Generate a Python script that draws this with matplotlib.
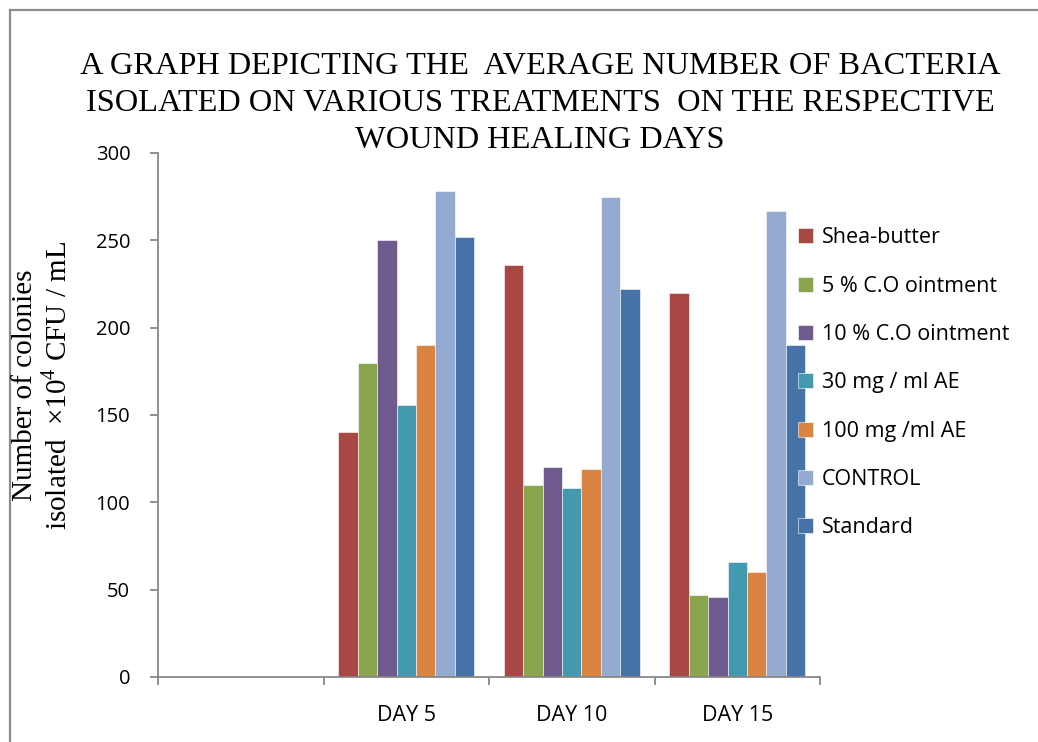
import numpy as np
import matplotlib
matplotlib.use("Agg")
import matplotlib.pyplot as plt
from matplotlib.lines import Line2D

# data
categories = ["", "DAY 5", "DAY 10", "DAY 15"]
series = ["Shea-butter", "5 % C.O ointment", "10 % C.O ointment",
          "30 mg / ml AE", "100 mg /ml AE", "CONTROL", "Standard"]
shea = [0, 140, 236, 220]
co5 = [0, 180, 110, 47]
co10 = [0, 250, 120, 46]
ae30 = [0, 156, 108, 66]
ae100 = [0, 190, 119, 60]
control = [0, 278, 275, 267]
standard = [0, 252, 222, 190]
values = [shea, co5, co10, ae30, ae100, control, standard]
colors = ["#a94744", "#8aa54e", "#6f5a8d", "#4399af", "#db8441", "#95aad1", "#4673a7"]
title_lines = ["A GRAPH DEPICTING THE  AVERAGE NUMBER OF BACTERIA",
               "ISOLATED ON VARIOUS TREATMENTS  ON THE RESPECTIVE",
               "WOUND HEALING DAYS"]

plt.rcParams["mathtext.fontset"] = "custom"
plt.rcParams["mathtext.rm"] = "Liberation Serif"

fig = plt.figure(figsize=(10.38, 7.42), dpi=100)
ax = fig.add_axes([158/1038, 1-677/742, (820-158)/1038, (677-153)/742])

n = len(series)
w = 1 / (n + 1.5)
x = np.arange(len(categories))
for i, (name, vals, c) in enumerate(zip(series, values, colors)):
    ax.bar(x + 0.5 - n*w/2 + (i + 0.5)*w, vals, width=w, color=c,
           edgecolor="white", linewidth=0.4, label=name)

ax.set_xlim(0, 4)
ax.set_ylim(0, 300)
ax.set_yticks(range(0, 301, 50))
ax.set_xticks(np.arange(0, 5))
ax.set_xticklabels([])
ax.set_xticks(x + 0.5, minor=True)
ax.set_xticklabels(categories, minor=True, fontfamily="Open Sans", fontsize=15.5)
ax.tick_params(axis="x", which="minor", length=0, pad=20)
ax.tick_params(axis="x", which="major", length=6, color="#878787", width=1.3)
ax.tick_params(axis="y", length=6, color="#878787", width=1.3, pad=14, labelsize=14.5)
for lab in ax.get_yticklabels():
    lab.set_fontfamily("Open Sans")
for s in ["top", "right"]:
    ax.spines[s].set_visible(False)
for s in ["left", "bottom"]:
    ax.spines[s].set_color("#878787")
    ax.spines[s].set_linewidth(1.3)

for k, line in enumerate(title_lines):
    fig.text(540/1038, 1-(67 + 36.5*k)/742, line, ha="center", va="center",
             fontfamily="Liberation Serif", fontsize=23.3)

fig.text(42/1038, 1-385/742,
         "Number of colonies\nisolated  $\\times 10^{4}$ CFU / mL",
         rotation=90, ha="center", va="center", multialignment="center",
         fontfamily="Liberation Serif", fontsize=21, linespacing=1.2)

fig.legend(loc="upper left", bbox_to_anchor=(779/1038, 1-208/742), frameon=False,
           prop={"family": "Open Sans", "size": 15.5}, handlelength=0.7,
           handleheight=0.7, handletextpad=0.4, labelspacing=1.27)

# outer frame
fig.add_artist(Line2D([10/1038, 10/1038], [0, 1-10/742], color="#8c8c8c", lw=1.6))
fig.add_artist(Line2D([10/1038, 1], [1-10/742, 1-10/742], color="#8c8c8c", lw=1.6))

fig.savefig("out.png", dpi=100)
